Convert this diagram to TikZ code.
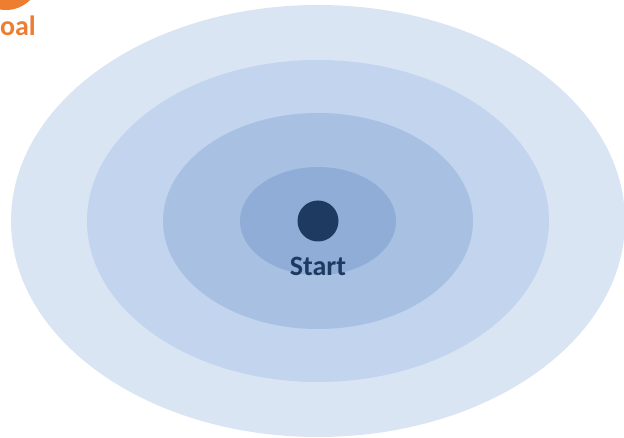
\documentclass[tikz,border=0pt]{standalone}
\usepackage{fontspec}
\setmainfont{Carlito}
\definecolor{ring1}{HTML}{DAE5F4}
\definecolor{ring2}{HTML}{C2D4EE}
\definecolor{ring3}{HTML}{A8C1E3}
\definecolor{ring4}{HTML}{8FADD7}
\definecolor{darkblue}{HTML}{1F3A60}
\definecolor{goalorange}{HTML}{ED7D31}
\begin{document}
\begin{tikzpicture}[x=1pt,y=1pt,
  ring/.style={draw=none,ellipse},
  lbl/.style={font=\bfseries\fontsize{28}{30}\selectfont,inner sep=0pt}]
\useasboundingbox (0,0) rectangle (624,-438);
\clip (0,0) rectangle (624,-438);
\coordinate (c) at (318,-221);
\fill[ring1] (c) ellipse [x radius=307, y radius=216];
\fill[ring2] (c) ellipse [x radius=231, y radius=161];
\fill[ring3] (c) ellipse [x radius=155, y radius=108];
\fill[ring4] (c) ellipse [x radius=78, y radius=54];
\node[circle,fill=darkblue,minimum size=41pt,inner sep=0pt] (start) at (c) {};
\node[lbl,text=darkblue,anchor=base] (startlbl) at (318,-276) {Start};
\node[circle,fill=goalorange,minimum size=68pt,inner sep=0pt] (goal) at (6,24) {};
\node[lbl,text=goalorange,anchor=base] (goallbl) at (9,-36) {Goal};
\end{tikzpicture}
\end{document}
